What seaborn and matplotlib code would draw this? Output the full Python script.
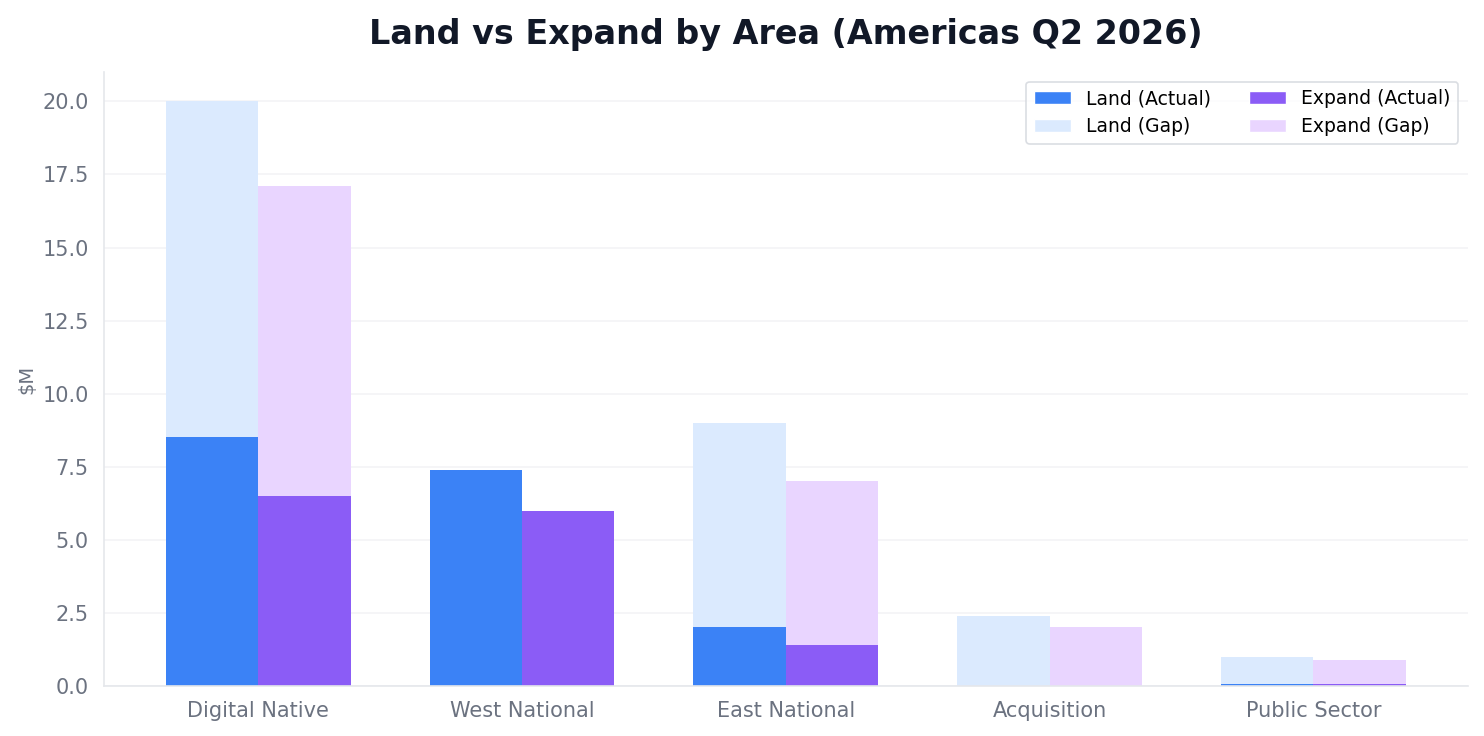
import numpy as np
import pandas as pd
import matplotlib
matplotlib.use("Agg")
import matplotlib.pyplot as plt
from matplotlib.patches import Patch
import seaborn as sns

# Chart data ($M)
areas = ["Digital Native", "West National", "East National", "Acquisition", "Public Sector"]
land_actual = [8.5, 7.4, 2.0, 0.0, 0.05]
land_target = [20.0, 7.4, 9.0, 2.4, 1.0]
expand_actual = [6.5, 6.0, 1.4, 0.0, 0.05]
expand_target = [17.1, 6.0, 7.0, 2.0, 0.9]

LAND_DARK, LAND_LIGHT = "#3b82f6", "#dbeafe"
EXP_DARK, EXP_LIGHT = "#8b5cf6", "#e9d5ff"
TEXT_GRAY = "#6b7280"

sns.set_theme(style="white")
plt.rcParams["font.family"] = ["DejaVu Sans"]

# long-form frames: full target height (gap drawn underneath) and actuals on top
target_df = pd.DataFrame({
    "area": areas * 2,
    "kind": ["Land"] * len(areas) + ["Expand"] * len(areas),
    "value": land_target + expand_target,
})
actual_df = pd.DataFrame({
    "area": areas * 2,
    "kind": ["Land"] * len(areas) + ["Expand"] * len(areas),
    "value": land_actual + expand_actual,
})

fig, ax = plt.subplots(figsize=(14.84, 7.36), dpi=100)
fig.subplots_adjust(left=0.070, right=0.989, bottom=0.068, top=0.902)

sns.barplot(data=target_df, x="area", y="value", hue="kind", order=areas,
            hue_order=["Land", "Expand"], palette=[LAND_LIGHT, EXP_LIGHT],
            saturation=1, width=0.7, errorbar=None, legend=False, ax=ax)
sns.barplot(data=actual_df, x="area", y="value", hue="kind", order=areas,
            hue_order=["Land", "Expand"], palette=[LAND_DARK, EXP_DARK],
            saturation=1, width=0.7, errorbar=None, legend=False, ax=ax)

for p in ax.patches:
    p.set_linewidth(0)

ax.set_xlim(-0.585, 4.585)
ax.set_ylim(0, 21)
ax.set_yticks(np.arange(0, 20.1, 2.5))
ax.yaxis.set_major_formatter(matplotlib.ticker.FormatStrFormatter("%.1f"))

ax.set_title("Land vs Expand by Area (Americas Q2 2026)", fontsize=24,
             fontweight="bold", color="#111827", pad=20)
ax.set_xlabel("")
ax.set_ylabel("$M", fontsize=14, color=TEXT_GRAY, labelpad=4)

ax.grid(axis="y", color="#f3f4f6", linewidth=1.2)
ax.set_axisbelow(True)
sns.despine(ax=ax)
for side in ["left", "bottom"]:
    ax.spines[side].set_color("#e5e7eb")
    ax.spines[side].set_linewidth(1.2)
ax.tick_params(axis="both", colors=TEXT_GRAY, labelsize=15, length=5, width=1.2)
ax.tick_params(axis="x", pad=6)
ax.tick_params(axis="y", pad=6)

handles = [
    Patch(facecolor=LAND_DARK, label="Land (Actual)"),
    Patch(facecolor=LAND_LIGHT, label="Land (Gap)"),
    Patch(facecolor=EXP_DARK, label="Expand (Actual)"),
    Patch(facecolor=EXP_LIGHT, label="Expand (Gap)"),
]
leg = ax.legend(handles=handles, ncol=2, loc="upper right", fontsize=13.5,
                frameon=True, edgecolor="#d1d5db", fancybox=True,
                labelcolor="black")
leg.get_frame().set_linewidth(1.2)

fig.savefig("out.png", dpi=100)
